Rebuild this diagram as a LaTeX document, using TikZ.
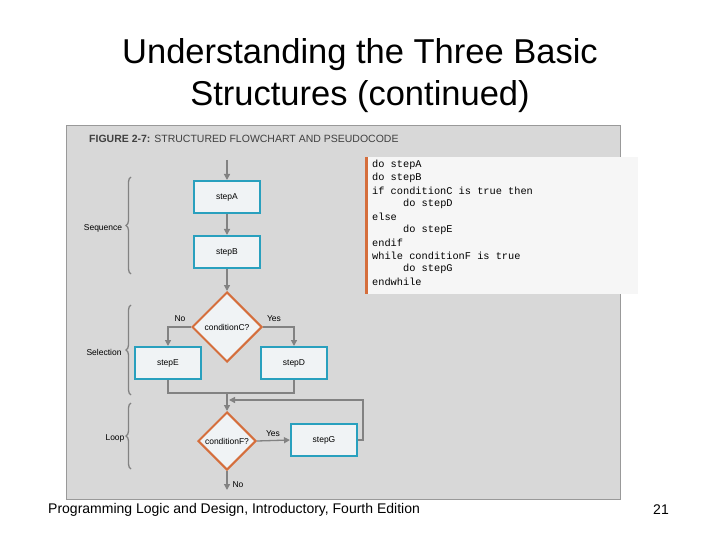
\documentclass[tikz,border=0pt]{standalone}
\usepackage{fontspec}
\setmainfont{Liberation Sans}
\setmonofont{Liberation Mono}
\usetikzlibrary{shapes.geometric,decorations.pathreplacing,arrows.meta}
\definecolor{panel}{RGB}{216,216,216}
\definecolor{boxfill}{RGB}{240,243,245}
\definecolor{teal}{RGB}{41,160,190}
\definecolor{orng}{RGB}{213,110,60}
\definecolor{arr}{RGB}{130,130,130}
\definecolor{codebg}{RGB}{246,246,246}
\tikzset{
  stepbox/.style={draw=teal,line width=2pt,fill=boxfill,minimum width=66pt,minimum height=32pt,font=\fontsize{8.5}{9}\selectfont},
  decis/.style={diamond,draw=orng,line width=2pt,fill=boxfill,inner sep=0pt,font=\fontsize{8.5}{9}\selectfont},
  flow/.style={draw=arr,line width=1.3pt,-{Triangle[length=6pt,width=6pt]}},
  line/.style={draw=arr,line width=1.3pt},
  brc/.style={draw=arr,line width=1.3pt,decorate,decoration={brace,amplitude=5pt}},
  lbl/.style={font=\fontsize{8.5}{9}\selectfont},
  code/.style={font=\ttfamily\fontsize{10.3}{13}\selectfont,anchor=west,inner sep=0pt}
}
\begin{document}
\begin{tikzpicture}[x=1pt,y=-1pt]
\useasboundingbox (0,0) rectangle (720,540);
\fill[white] (0,0) rectangle (720,540);
\node (t1) at (360,55) {\fontsize{34.5}{40}\selectfont Understanding the Three Basic};
\node (t2) at (360,97) {\fontsize{34.5}{40}\selectfont Structures (continued)};
\draw[fill=panel,draw=gray!80] (66,125) rectangle (620,499);
\node[anchor=west,inner sep=0pt,font=\fontsize{10.5}{12}\selectfont,text=black!75] (cap) at (89,139) {\textbf{FIGURE 2-7:} STRUCTURED FLOWCHART AND PSEUDOCODE};
% code
\fill[codebg] (366,157) rectangle (638,294);
\fill[orng] (365,157) rectangle (368,294);
\node[code] (c1) at (372,165) {do stepA};
\node[code] (c2) at (372,178) {do stepB};
\node[code] (c3) at (372,191) {if conditionC is true then};
\node[code] (c4) at (403,204) {do stepD};
\node[code] (c5) at (372,217) {else};
\node[code] (c6) at (403,230) {do stepE};
\node[code] (c7) at (372,243) {endif};
\node[code] (c8) at (372,256) {while conditionF is true};
\node[code] (c9) at (403,269) {do stepG};
\node[code] (c10) at (372,282) {endwhile};
% flow
\coordinate (start) at (227,160);
\node[stepbox] (A) at (227,197) {stepA};
\node[stepbox] (B) at (227,252) {stepB};
\node[decis,minimum width=70pt,minimum height=70pt] (C) at (227,327) {conditionC?};
\node[stepbox] (E) at (168,363) {stepE};
\node[stepbox] (D) at (294,363) {stepD};
\coordinate (m) at (227,393);
\node[decis,minimum width=58pt,minimum height=58pt] (F) at (227,441) {conditionF?};
\node[stepbox] (G) at (324,440) {stepG};
\coordinate (endp) at (227,490);
\draw[flow] (start) -- (A);
\draw[flow] (A) -- (B);
\draw[flow] (B) -- (C);
\draw[flow] (C.west) -| (E.north);
\draw[flow] (C.east) -| (D.north);
\draw[line] (E.south) |- (m) -| (D.south);
\draw[flow] (m) -- (F.north);
\draw[flow] (F.east) -- (G.west);
\draw[flow] (G.east) -- (363,440) |- (229,400);
\draw[flow] (F.south) -- (endp);
\node[lbl] (no1) at (180,319) {No};
\node[lbl] (yes1) at (274,319) {Yes};
\node[lbl] (yes2) at (273,434) {Yes};
\node[lbl] (no2) at (238,485) {No};
% braces
\draw[brc] (131,274) -- (131,177);
\draw[brc] (131,395) -- (131,305);
\draw[brc] (131,469) -- (131,403);
\node[lbl] (s1) at (103,228) {Sequence};
\node[lbl] (s2) at (104,352) {Selection};
\node[lbl] (s3) at (115,438) {Loop};
% footer
\node[anchor=west,inner sep=0pt,font=\fontsize{14}{16}\selectfont] (f1) at (48,510) {Programming Logic and Design, Introductory, Fourth Edition};
\node[font=\fontsize{14}{16}\selectfont] (f2) at (661,510) {21};
\end{tikzpicture}
\end{document}
